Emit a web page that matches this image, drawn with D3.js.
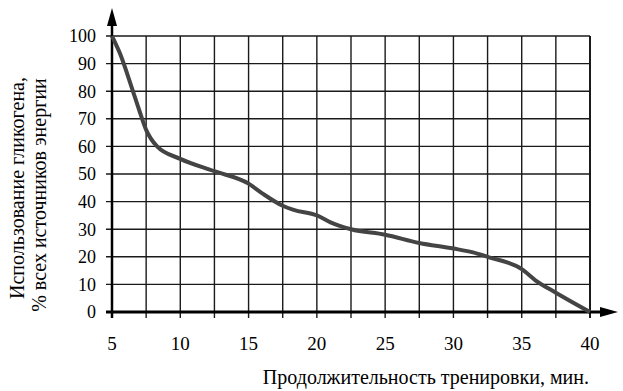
<!DOCTYPE html>
<html>
<head>
<meta charset="utf-8">
<script src="https://cdn.jsdelivr.net/npm/d3@7"></script>
</head>
<body style="margin:0">
<script>
    // Data
    const minutes = [5, 5.6, 6.5, 7, 7.5, 8.3, 10, 12.5, 15, 16, 17.5, 18.3, 20, 21, 22.5, 25, 27.5, 30, 31.5, 32.5, 35, 36, 37.5, 40];
    const glycogen = [100, 93.5, 80.5, 73, 66, 60, 55.5, 51, 46.5, 43, 38.5, 37, 35, 32.5, 30, 28, 25, 23, 21.5, 20, 15.5, 11.5, 7, 0];

    const xGrid = [5, 7.5, 10, 12.5, 15, 17.5, 20, 22.5, 25, 27.5, 30, 32.5, 35, 37.5, 40];
    const xLabels = [5, 10, 15, 20, 25, 30, 35, 40];
    const yTicks = [0, 10, 20, 30, 40, 50, 60, 70, 80, 90, 100];

    const yTitle = ['Использование гликогена,', '%  всех источников энергии'];
    const xTitle = 'Продолжительность тренировки, мин.';

    const W = 623, H = 391;
    const margin = { top: 36, right: 33, bottom: 79, left: 112 };
    const serif = '"Times New Roman"';

    const svg = d3.select('body').append('svg')
        .attr('width', W)
        .attr('height', H)
        .style('font-family', serif);

    const x = d3.scaleLinear().domain([5, 40]).range([margin.left, W - margin.right]);
    const y = d3.scaleLinear().domain([0, 100]).range([H - margin.bottom, margin.top]);

    const ink = '#1a1a1a';

    // grid
    const grid = svg.append('g').attr('stroke', ink).attr('stroke-width', 1.4);
    grid.selectAll('line.h').data(yTicks).join('line')
        .attr('class', 'h')
        .attr('x1', x(5) - 6).attr('x2', x(40))
        .attr('y1', d => y(d)).attr('y2', d => y(d));
    grid.selectAll('line.v').data(xGrid).join('line')
        .attr('class', 'v')
        .attr('x1', d => x(d)).attr('x2', d => x(d))
        .attr('y1', y(100)).attr('y2', y(0) + 6)
        .attr('stroke-width', d => d === 40 ? 2 : 1.4);

    // tick labels, placed with the scales
    svg.selectAll('text.ytick').data(yTicks).join('text')
        .attr('class', 'ytick')
        .attr('x', x(5) - 16)
        .attr('y', d => y(d))
        .attr('dy', '0.35em')
        .attr('text-anchor', 'end')
        .style('font-family', serif)
        .style('font-size', '18px')
        .text(d => d);
    svg.selectAll('text.xtick').data(xLabels).join('text')
        .attr('class', 'xtick')
        .attr('x', d => x(d))
        .attr('y', y(0) + 38)
        .attr('text-anchor', 'middle')
        .style('font-family', serif)
        .style('font-size', '19px')
        .text(d => d);

    // axis lines with arrows
    svg.append('line')
        .attr('x1', x(5) - 6).attr('x2', 604)
        .attr('y1', y(0)).attr('y2', y(0))
        .attr('stroke', '#000').attr('stroke-width', 3);
    svg.append('path')
        .attr('d', `M600,${y(0) - 5}L618,${y(0)}L600,${y(0) + 5}Z`)
        .attr('fill', '#000');
    svg.append('line')
        .attr('x1', x(5)).attr('x2', x(5))
        .attr('y1', y(0) + 6).attr('y2', 22)
        .attr('stroke', '#000').attr('stroke-width', 2.5);
    svg.append('path')
        .attr('d', `M${x(5) - 5},26L${x(5)},8L${x(5) + 5},26Z`)
        .attr('fill', '#000');

    // curve
    const line = d3.line()
        .x((d, i) => x(minutes[i]))
        .y(d => y(d))
        .curve(d3.curveMonotoneX);
    svg.append('path')
        .datum(glycogen)
        .attr('d', line)
        .attr('fill', 'none')
        .attr('stroke', '#444')
        .attr('stroke-width', 4)
        .attr('stroke-linejoin', 'round');

    // titles
    svg.append('text')
        .attr('x', 589).attr('y', 384)
        .attr('text-anchor', 'end')
        .style('font-family', serif)
        .style('font-size', '20px')
        .text(xTitle);

    svg.append('g')
        .attr('transform', 'translate(0,192) rotate(-90)')
        .selectAll('text').data(yTitle).join('text')
        .attr('x', (d, i) => i === 0 ? 4 : -3)
        .attr('y', (d, i) => 24 + i * 22)
        .attr('text-anchor', 'middle')
        .style('font-family', serif)
        .style('font-size', '20px')
        .text(d => d);
</script>
</body>
</html>
